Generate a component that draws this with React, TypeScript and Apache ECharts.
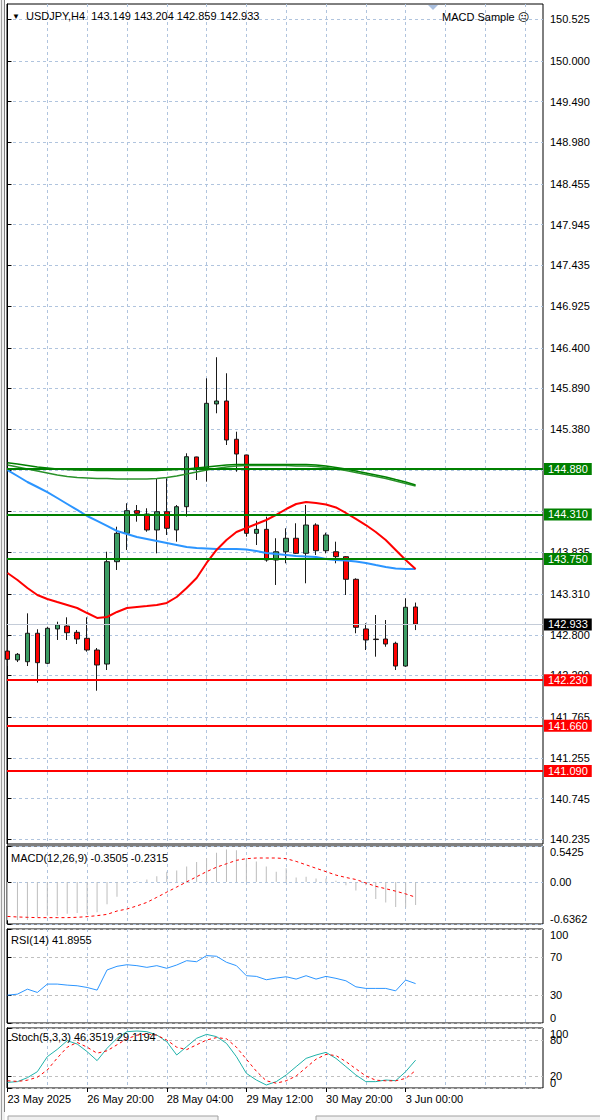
import { useEffect, useRef } from 'react';
import * as echarts from 'echarts';

// USDJPY H4 candles (open / high / low / close)
const opens = [
  142.596, 142.484, 142.462, 142.819, 142.442, 142.873, 142.910, 142.831, 142.756, 142.609,
  142.433, 143.717, 144.073, 144.357, 144.315, 144.115, 144.344, 144.115, 144.407, 145.031,
  144.889, 145.696, 145.733, 145.253, 145.056, 144.073, 144.123, 143.738, 143.842, 144.011,
  143.822, 144.177, 143.855, 143.842, 143.780, 143.496, 142.873, 142.746, 142.747, 142.693,
  142.408, 143.149,
];
const highs = [
  142.772, 142.571, 143.069, 142.869, 142.901, 142.964, 143.019, 142.860, 143.019, 142.634,
  143.842, 144.156, 144.450, 144.428, 144.387, 144.763, 144.763, 144.428, 145.077, 145.034,
  146.018, 146.282, 146.081, 145.348, 145.056, 144.231, 144.282, 144.011, 144.136, 144.199,
  144.428, 144.199, 144.081, 143.968, 143.788, 143.509, 142.944, 143.048, 142.985, 142.713,
  143.258, 143.204,
];
const lows = [
  142.408, 142.458, 142.408, 142.199, 142.433, 142.735, 142.735, 142.684, 142.588, 142.098,
  142.358, 143.613, 143.864, 144.219, 144.093, 143.822, 144.052, 143.968, 144.282, 144.742,
  144.721, 145.579, 145.181, 144.846, 144.031, 143.926, 143.717, 143.425, 143.697, 143.814,
  143.446, 143.801, 143.822, 143.697, 143.299, 142.819, 142.609, 142.525, 142.650, 142.358,
  142.399, 142.859,
];
const closes = [
  142.492, 142.555, 142.819, 142.450, 142.881, 142.926, 142.826, 142.747, 142.609, 142.421,
  143.717, 144.073, 144.357, 144.324, 144.115, 144.344, 144.136, 144.407, 145.034, 144.889,
  145.704, 145.733, 145.244, 145.068, 144.073, 144.123, 143.738, 143.842, 144.011, 143.822,
  144.177, 143.855, 144.052, 143.780, 143.496, 142.894, 142.735, 142.740, 142.684, 142.408,
  143.145, 142.933,
];

// moving averages on the price panel
const maRed = [
  143.575, 143.487, 143.387, 143.299, 143.249, 143.211, 143.174, 143.136, 143.073, 143.011,
  143.023, 143.086, 143.136, 143.149, 143.161, 143.174, 143.199, 143.274, 143.387, 143.512,
  143.701, 143.864, 143.989, 144.090, 144.140, 144.190, 144.240, 144.303, 144.378, 144.441,
  144.466, 144.453, 144.435, 144.397, 144.328, 144.253, 144.177, 144.090, 143.989, 143.864,
  143.738, 143.625,
];
const maBlue = [
  144.867, 144.792, 144.717, 144.654, 144.591, 144.516, 144.441, 144.366, 144.290, 144.228,
  144.165, 144.102, 144.064, 144.027, 144.002, 143.977, 143.952, 143.927, 143.901, 143.889,
  143.883, 143.876, 143.876, 143.876, 143.870, 143.851, 143.826, 143.814, 143.801, 143.788,
  143.782, 143.776, 143.751, 143.738, 143.732, 143.719, 143.701, 143.675, 143.650, 143.632,
  143.625, 143.625,
];
const maGreenA = [
  144.959, 144.943, 144.924, 144.905, 144.893, 144.880, 144.874, 144.867, 144.867, 144.861,
  144.861, 144.861, 144.861, 144.861, 144.861, 144.861, 144.867, 144.874, 144.880, 144.893,
  144.905, 144.918, 144.930, 144.936, 144.936, 144.936, 144.936, 144.936, 144.936, 144.936,
  144.936, 144.930, 144.918, 144.899, 144.880, 144.855, 144.830, 144.805, 144.780, 144.748,
  144.717, 144.679,
];
const maGreenB = [
  144.930, 144.905, 144.880, 144.855, 144.830, 144.805, 144.786, 144.773, 144.767, 144.761,
  144.761, 144.755, 144.755, 144.755, 144.755, 144.761, 144.773, 144.792, 144.817, 144.842,
  144.867, 144.886, 144.905, 144.918, 144.924, 144.924, 144.924, 144.924, 144.924, 144.918,
  144.918, 144.911, 144.899, 144.880, 144.861, 144.836, 144.811, 144.786, 144.761, 144.729,
  144.698, 144.667,
];

const greenLevels = [144.88, 144.31, 143.75];
const redLevels = [142.23, 141.66, 141.09];
const lastPrice = 142.933;

// grid rows of the price scale; the labels hidden under level boxes are left out
const priceGrid = [
  150.525, 150.0, 149.49, 148.98, 148.455, 147.945, 147.435, 146.925, 146.4, 145.89, 145.38,
  144.87, 144.355, 143.835, 143.31, 142.8, 142.29, 141.765, 141.255, 140.745, 140.235,
];
const priceLabels = priceGrid.filter((v) => v !== 144.87 && v !== 144.355);

// indicators
const macdHist = [
  -0.58, -0.574, -0.574, -0.532, -0.512, -0.512, -0.481, -0.47, -0.481, -0.46,
  -0.337, -0.223, -0.01, 0.01, 0.036, 0.087, 0.155, 0.171, 0.233, 0.299,
  0.361, 0.439, 0.49, 0.48, 0.361, 0.31, 0.233, 0.155, 0.206, 0.067,
  0.078, 0.052, 0.05, 0.016, -0.052, -0.129, -0.052, -0.259, -0.31, -0.378,
  -0.388, -0.3505,
];
const macdSignal = [
  -0.522, -0.53, -0.535, -0.54, -0.54, -0.54, -0.54, -0.535, -0.525, -0.51,
  -0.491, -0.44, -0.41, -0.363, -0.31, -0.233, -0.155, -0.078, 0.0, 0.078,
  0.155, 0.222, 0.274, 0.326, 0.351, 0.361, 0.361, 0.361, 0.351, 0.31,
  0.258, 0.206, 0.155, 0.103, 0.067, 0.036, -0.016, -0.067, -0.103, -0.14,
  -0.181, -0.2315,
];
const rsi = [
  29.6, 30.7, 36.0, 32.5, 41.4, 41.4, 40.3, 39.6, 37.8, 35.0,
  56.4, 60.3, 62.0, 61.0, 59.2, 61.0, 58.2, 61.7, 66.3, 65.2,
  71.7, 71.0, 64.6, 61.0, 50.3, 49.6, 46.0, 47.8, 49.2, 46.7,
  50.3, 46.7, 49.6, 47.5, 44.9, 38.5, 36.8, 36.8, 36.8, 34.2,
  45.7, 41.9,
];
const stochMain = [
  9.4, 10.6, 17.2, 27.2, 52.2, 64.4, 78.9, 73.3, 60.6, 45.6,
  66.1, 82.8, 93.9, 95.0, 93.9, 88.3, 77.2, 55.0, 68.9, 82.8,
  89.4, 85.6, 74.4, 52.2, 24.4, 13.3, 5.0, 10.6, 21.7, 35.6,
  49.4, 55.0, 59.4, 49.4, 35.6, 21.7, 10.6, 10.6, 13.3, 12.2,
  27.2, 46.4,
];
const stochSignal = [
  12, 11, 13, 18, 30, 50, 68, 76, 68, 58,
  62, 72, 82, 88, 90, 88, 80, 68, 64, 72,
  80, 84, 82, 68, 48, 28, 12, 8, 12, 20,
  34, 48, 56, 54, 44, 32, 20, 13, 12, 12,
  16, 29.1,
];

const timeLabels = ['23 May 2025', '26 May 20:00', '28 May 04:00', '29 May 12:00', '30 May 20:00', '3 Jun 00:00'];
const labelStep = 8;
const gridStep = 4;
const xMin = -0.05;
const xMax = 53.8;

const macdTicks = [0.5425, 0, -0.6362];
const rsiTicks = [100, 70, 30, 0];
const stochLevels = [80, 20];
const stochBounds = [100, 0];

const FONT = "'Liberation Sans', 'DejaVu Sans', sans-serif";
const GRID_BLUE = '#b0c4de';
const LEVEL_GRAY = '#c0c0c0';

const gridXs: number[] = [];
for (let v = gridStep; v < xMax; v += gridStep) gridXs.push(v);
const labelXs = timeLabels.map((_, i) => i * labelStep);

const pts = (arr: number[]) => arr.map((v, i) => [i, v]);

export default function App() {
  const ref = useRef<HTMLDivElement>(null);

  useEffect(() => {
    document.body.style.margin = '0';
    if (!ref.current) return;
    const chart = echarts.init(ref.current, null, { renderer: 'svg' });

    const grids = [
      { left: 7, top: 4, width: 536, height: 840 },
      { left: 7, top: 846, width: 536, height: 78 },
      { left: 7, top: 929, width: 536, height: 94 },
      { left: 7, top: 1028, width: 536, height: 60 },
    ].map((g) => ({
      ...g,
      show: true,
      borderColor: '#000',
      borderWidth: 1,
      backgroundColor: '#fff',
      containLabel: false,
      outerBoundsMode: 'none',
    }));

    const gridX = (gridIndex: number) => ({
      type: 'value',
      gridIndex,
      min: xMin,
      max: xMax,
      axisLine: { show: false },
      axisLabel: { show: false },
      axisTick: { show: false, customValues: gridXs },
      splitLine: { show: true, lineStyle: { color: GRID_BLUE, type: [3, 3], width: 1 } },
    });

    const labelStyle = { color: '#000', fontSize: 11, fontFamily: FONT };

    const sideY = (
      gridIndex: number,
      min: number,
      max: number,
      ticks: number[],
      labels: number[],
      fmt: (v: number) => string,
      splitColor: string | null,
      edgeAlign: boolean,
    ) => ({
      type: 'value',
      gridIndex,
      position: 'right',
      min,
      max,
      axisLine: { show: true, lineStyle: { color: '#000' } },
      axisTick: { show: true, length: 4, customValues: ticks, lineStyle: { color: '#000' } },
      axisLabel: {
        ...labelStyle,
        margin: 7,
        customValues: labels,
        formatter: fmt,
        hideOverlap: false,
        showMinLabel: true,
        showMaxLabel: true,
        ...(edgeAlign ? { verticalAlignMaxLabel: 'bottom', verticalAlignMinLabel: 'top' } : {}),
      },
      splitLine: splitColor
        ? { show: true, lineStyle: { color: splitColor, type: [3, 3], width: 1 } }
        : { show: false },
    });

    const levelLine = (v: number, color: string, width: number) => ({
      yAxis: v,
      lineStyle: { color, width, type: 'solid' },
      label: { backgroundColor: color, formatter: v.toFixed(3) },
    });

    chart.setOption({
      animation: false,
      backgroundColor: '#fff',
      textStyle: { fontFamily: FONT },
      title: [
        { text: '▼', left: 12, top: 12, padding: 0, textStyle: { ...labelStyle, fontSize: 8, fontWeight: 'normal' } },
        { text: 'USDJPY,H4  143.149 143.204 142.859 142.933', left: 26, top: 10, padding: 0, textStyle: { ...labelStyle, fontWeight: 'normal' } },
        { text: 'MACD Sample ☹', left: 442, top: 11, padding: 0, textStyle: { ...labelStyle, fontWeight: 'normal' } },
        { text: 'MACD(12,26,9) -0.3505 -0.2315', left: 11, top: 852, padding: 0, textStyle: { ...labelStyle, fontWeight: 'normal' } },
        { text: 'RSI(14) 41.8955', left: 11, top: 934, padding: 0, textStyle: { ...labelStyle, fontWeight: 'normal' } },
        { text: 'Stoch(5,3,3) 46.3519 29.1194', left: 11, top: 1031, padding: 0, textStyle: { ...labelStyle, fontWeight: 'normal' } },
      ],
      grid: grids,
      xAxis: [
        gridX(0),
        gridX(1),
        gridX(2),
        gridX(3),
        {
          type: 'value',
          gridIndex: 3,
          min: xMin,
          max: xMax,
          position: 'bottom',
          axisLine: { show: false },
          splitLine: { show: false },
          axisTick: { show: true, length: 4, customValues: labelXs, lineStyle: { color: '#000' } },
          axisLabel: {
            ...labelStyle,
            margin: 5,
            align: 'left',
            customValues: labelXs,
            showMinLabel: true,
            formatter: (v: number) => timeLabels[Math.round(v / labelStep)] ?? '',
          },
        },
      ],
      yAxis: [
        sideY(0, 140.175, 150.714, priceGrid, priceLabels, (v) => v.toFixed(3), GRID_BLUE, false),
        sideY(1, -0.6362, 0.5425, macdTicks, macdTicks, (v) => (v === 0 ? '0.00' : v.toFixed(4)), GRID_BLUE, true),
        sideY(2, 0, 100, rsiTicks, rsiTicks, (v) => String(v), LEVEL_GRAY, true),
        // stochastic: the 80/20 levels and the 100/0 bounds sit on two axes so that both pairs stay drawn
        sideY(3, 0, 100, [...stochBounds, ...stochLevels], stochLevels, (v) => String(v), LEVEL_GRAY, false),
        sideY(3, 0, 100, stochBounds, stochBounds, (v) => String(v), null, true),
      ],
      graphic: [
        { type: 'rect', shape: { x: 0, y: 0, width: 5, height: 1120 }, style: { fill: '#f0f0f0' }, silent: true },
        { type: 'line', shape: { x1: 1.5, y1: 0, x2: 1.5, y2: 1120 }, style: { stroke: '#a0a0a0', lineWidth: 1 }, silent: true },
        { type: 'line', shape: { x1: 4.5, y1: 0, x2: 4.5, y2: 1112 }, style: { stroke: '#808080', lineWidth: 1 }, silent: true },
        { type: 'rect', shape: { x: 8, y: 1116, width: 210, height: 8 }, style: { fill: '#f0f0f0', stroke: '#a0a0a0' }, silent: true },
        { type: 'rect', shape: { x: 316, y: 1116, width: 290, height: 8 }, style: { fill: '#f0f0f0', stroke: '#a0a0a0' }, silent: true },
        { type: 'polygon', shape: { points: [[428, 5], [438, 5], [433, 10]] }, style: { fill: '#a9bfdf' }, silent: true },
      ],
      series: [
        {
          type: 'candlestick',
          xAxisIndex: 0,
          yAxisIndex: 0,
          barWidth: 5,
          clip: true,
          encode: { x: 0, y: [1, 2, 3, 4] },
          data: opens.map((o, i) => [i, o, closes[i], lows[i], highs[i]]),
          itemStyle: {
            color: '#3c9d64',
            color0: '#ff0000',
            borderColor: '#1a1a1a',
            borderColor0: '#1a1a1a',
            borderWidth: 1,
          },
          markLine: {
            symbol: 'none',
            silent: true,
            animation: false,
            label: {
              show: true,
              position: 'end',
              distance: 1,
              color: '#fff',
              fontSize: 11,
              fontFamily: FONT,
              padding: [1, 4, 0, 4],
            },
            data: [
              ...greenLevels.map((v) => levelLine(v, '#008000', 2)),
              ...redLevels.map((v) => levelLine(v, '#ff0000', 2)),
              {
                yAxis: lastPrice,
                lineStyle: { color: '#c4ccd8', width: 1, type: 'solid' },
                label: { backgroundColor: '#000', formatter: lastPrice.toFixed(3) },
              },
            ],
          },
        },
        { type: 'line', xAxisIndex: 0, yAxisIndex: 0, data: pts(maGreenB), showSymbol: false, lineStyle: { color: '#2a922a', width: 1.5 } },
        { type: 'line', xAxisIndex: 0, yAxisIndex: 0, data: pts(maGreenA), showSymbol: false, lineStyle: { color: '#008000', width: 1.5 } },
        { type: 'line', xAxisIndex: 0, yAxisIndex: 0, data: pts(maBlue), showSymbol: false, lineStyle: { color: '#2b95ff', width: 2 } },
        { type: 'line', xAxisIndex: 0, yAxisIndex: 0, data: pts(maRed), showSymbol: false, lineStyle: { color: '#ff0000', width: 2 } },
        {
          type: 'bar',
          xAxisIndex: 1,
          yAxisIndex: 1,
          barWidth: 1,
          data: pts(macdHist),
          itemStyle: { color: '#bdbdbd' },
        },
        { type: 'line', xAxisIndex: 1, yAxisIndex: 1, data: pts(macdSignal), showSymbol: false, lineStyle: { color: '#ff0000', width: 1, type: [3, 3] } },
        { type: 'line', xAxisIndex: 2, yAxisIndex: 2, data: pts(rsi), showSymbol: false, lineStyle: { color: '#2b95ff', width: 1 } },
        { type: 'line', xAxisIndex: 3, yAxisIndex: 3, data: pts(stochMain), showSymbol: false, lineStyle: { color: '#20b2aa', width: 1 } },
        { type: 'line', xAxisIndex: 3, yAxisIndex: 3, data: pts(stochSignal), showSymbol: false, lineStyle: { color: '#ff0000', width: 1, type: [3, 3] } },
      ],
    });

    return () => chart.dispose();
  }, []);

  return <div ref={ref} style={{ position: 'fixed', left: 0, top: 0, width: 600, height: 1120 }} />;
}
